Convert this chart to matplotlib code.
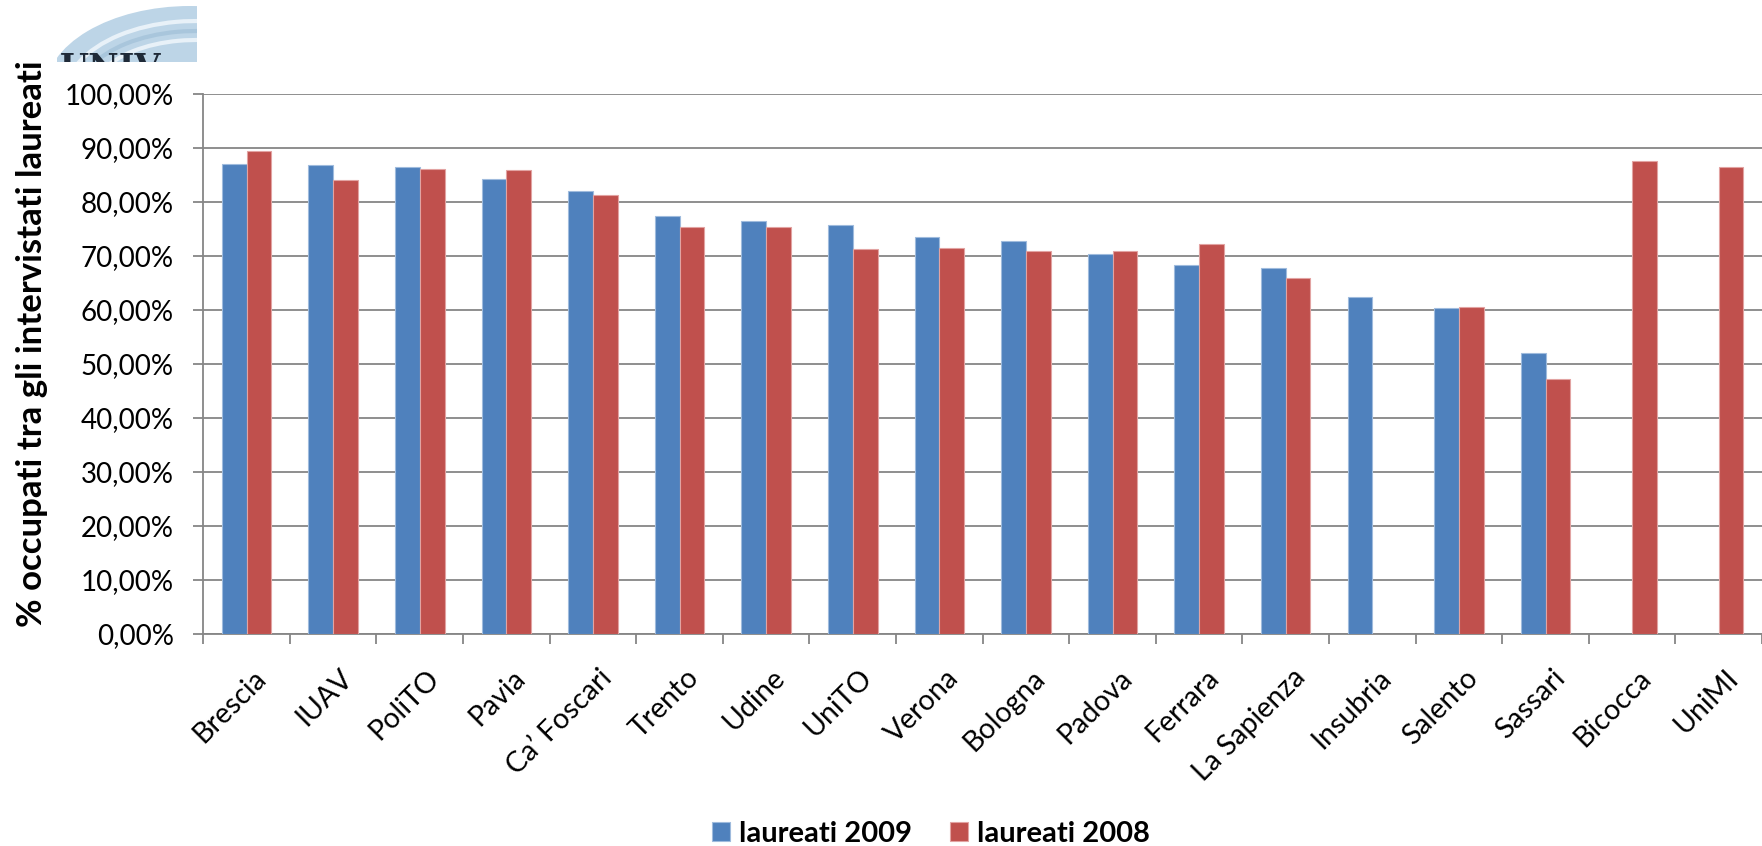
import numpy as np
import matplotlib
matplotlib.use('Agg')
import matplotlib.pyplot as plt
from matplotlib.ticker import FuncFormatter
from matplotlib.patches import Ellipse, Arc, Rectangle
import matplotlib.transforms as mtransforms

plt.rcParams['font.family'] = ['Lato', 'DejaVu Sans']

# ---- data ----
categories = ['Brescia', 'IUAV', 'PoliTO', 'Pavia', 'Ca\u2019 Foscari', 'Trento', 'Udine',
              'UniTO', 'Verona', 'Bologna', 'Padova', 'Ferrara', 'La Sapienza',
              'Insubria', 'Salento', 'Sassari', 'Bicocca', 'UniMI']
laureati_2009 = [87.0, 86.85, 86.5, 84.2, 82.1, 77.4, 76.5, 75.7, 73.5, 72.8,
                 70.4, 68.3, 67.8, 62.5, 60.4, 52.0, np.nan, np.nan]
laureati_2008 = [89.4, 84.0, 86.1, 85.9, 81.3, 75.4, 75.4, 71.3, 71.4, 71.0,
                 70.9, 72.3, 66.0, np.nan, 60.5, 47.2, 87.5, 86.5]
series_labels = ['laureati 2009', 'laureati 2008']
y_label = '% occupati tra gli intervistati laureati'
y_ticks = list(range(0, 101, 10))

W, H = 1762, 846
fig = plt.figure(figsize=(W / 100, H / 100), dpi=100)

# decorative logo fragment (top-left)
ov = fig.add_axes([0, 0, 1, 1], zorder=0)
ov.set_xlim(0, W)
ov.set_ylim(H, 0)
ov.axis('off')
clip = Rectangle((57, 0), 140, 62, transform=ov.transData)
e = Ellipse((190, 92), 290, 172, facecolor='#bdd5e7', edgecolor='none')
ov.add_patch(e)
e.set_clip_path(clip)
for ww, hh, c in [(262, 150, '#e8f1f8'), (236, 130, '#a9c6dc'), (210, 112, '#e8f1f8')]:
    a = Arc((196, 96), ww, hh, theta1=180, theta2=300, color=c, lw=3)
    ov.add_patch(a)
    a.set_clip_path(clip)
t = ov.text(60, 52, 'UNIV', fontsize=24, fontweight='bold', family='DejaVu Serif',
            color='#1f2a38', va='top', ha='left', clip_on=True)
t.set_clip_path(clip)

# main axes
left = 203.3 / W
bottom = 1 - 634 / H
top = 1 - 94 / H
ax = fig.add_axes([left, bottom, 1 - left, top - bottom], zorder=1)
ax.patch.set_alpha(0)

x = np.arange(len(categories))
w = 0.286
ax.bar(x - w / 2, laureati_2009, w, color='#4F81BD', edgecolor='#9fbbdd',
       linewidth=0.8, zorder=3, label=series_labels[0])
ax.bar(x + w / 2, laureati_2008, w, color='#C0504D', edgecolor='#e2a3a2',
       linewidth=0.8, zorder=3, label=series_labels[1])

ax.set_xlim(-0.5, 17.32)
ax.set_ylim(0, 100)
ax.set_yticks(y_ticks)
ax.yaxis.set_major_formatter(FuncFormatter(lambda v, p: f"{v:.2f}%".replace('.', ',')))
ax.set_axisbelow(True)
ax.grid(axis='y', color='#868686', linewidth=1.3, zorder=0)
for s in ['top', 'right']:
    ax.spines[s].set_visible(False)
for s in ['left', 'bottom']:
    ax.spines[s].set_color('#868686')
    ax.spines[s].set_linewidth(1.3)

ax.tick_params(axis='y', length=7.2, width=1.3, color='#868686', labelsize=20,
               pad=14, labelcolor='black')

ax.set_xticks(np.arange(-0.5, 17.6, 1))
ax.set_xticklabels([])
ax.tick_params(axis='x', which='major', length=7.2, width=1.3, color='#868686')
ax.set_xticks(x, minor=True)
ax.set_xticklabels(categories, minor=True, rotation=45, ha='right', va='top',
                   rotation_mode='anchor')
ax.tick_params(axis='x', which='minor', length=0, pad=22, labelsize=20.5)
off = mtransforms.ScaledTranslation(6 / 100, 0, fig.dpi_scale_trans)
for lab in ax.get_xticklabels(minor=True):
    lab.set_transform(lab.get_transform() + off)

fig.text(32.5 / W, 1 - 343.5 / H, y_label, rotation=90, ha='center', va='center',
         fontsize=25, fontweight='bold')

fig.legend(loc='center', bbox_to_anchor=(931 / W, 1 - 834 / H), ncol=2, frameon=False,
           prop={'weight': 'bold', 'size': 21}, handlelength=0.62, handleheight=0.62,
           handletextpad=0.3, columnspacing=1.3, borderpad=0)

fig.savefig('out.png', dpi=100)
